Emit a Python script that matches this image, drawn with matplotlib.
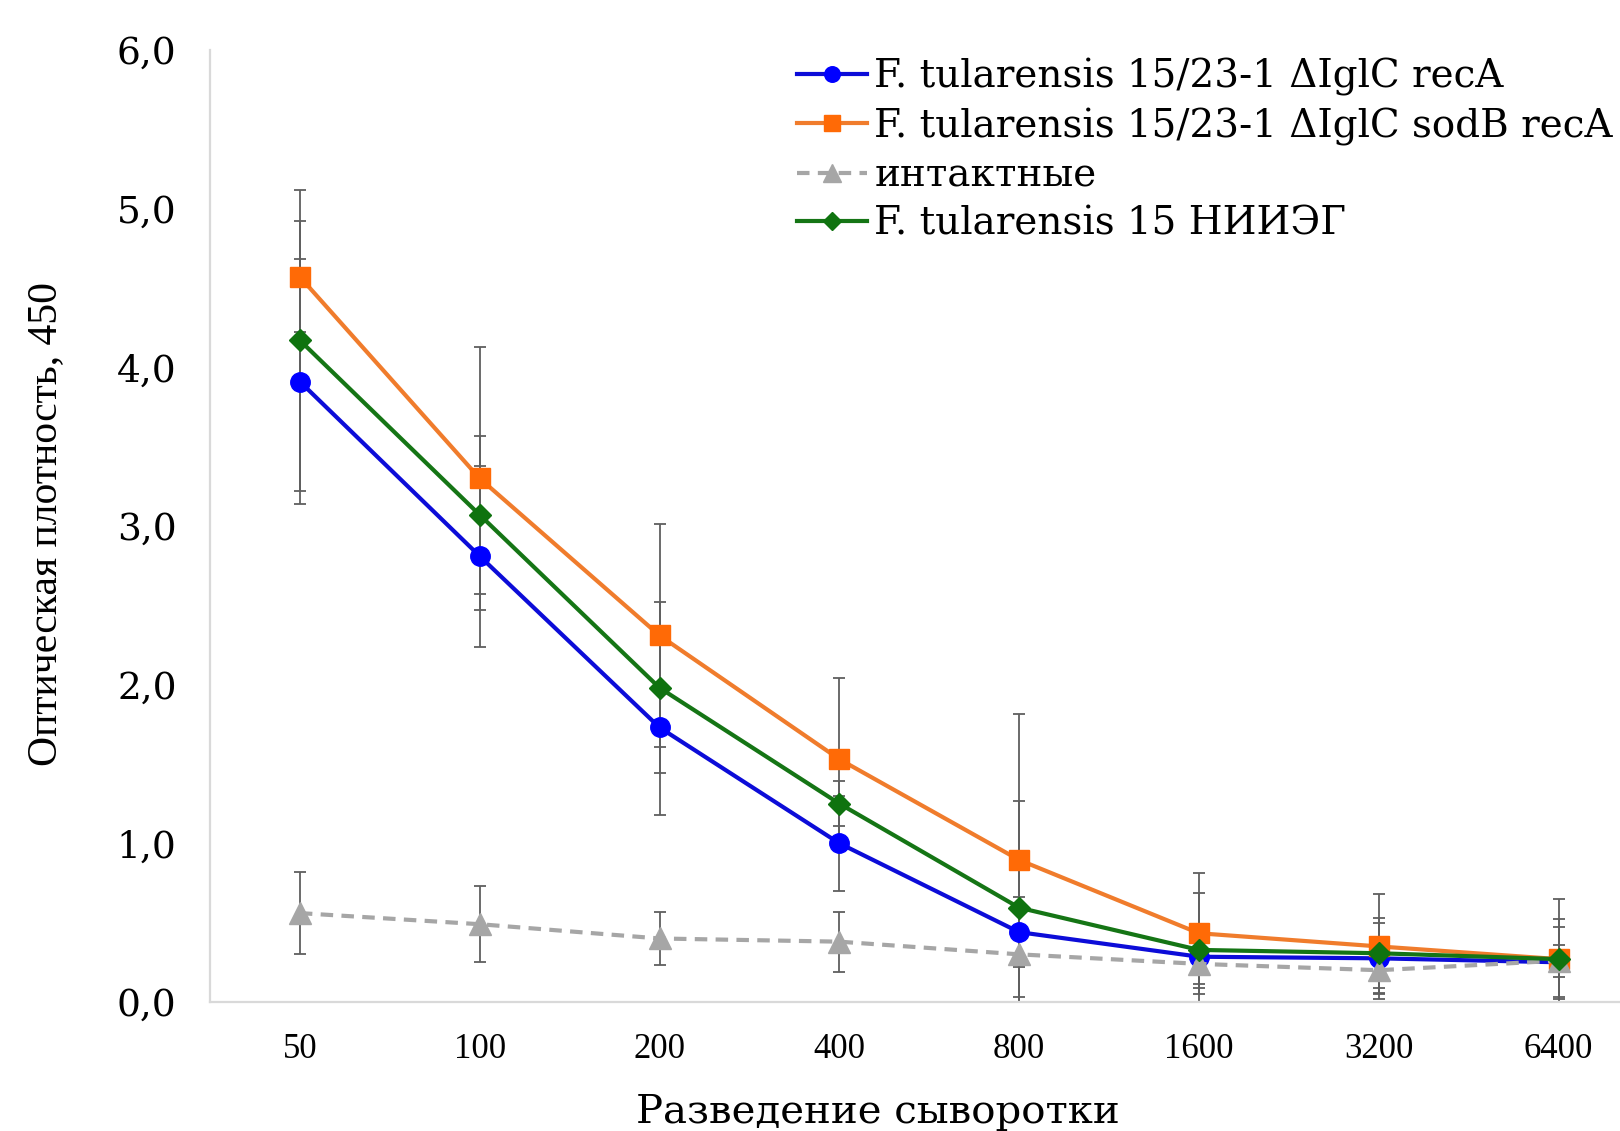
import matplotlib
matplotlib.use("Agg")
import matplotlib.pyplot as plt
import numpy as np

plt.rcParams['font.family'] = ['Liberation Serif', 'DejaVu Serif']
WIDE = ['DejaVu Serif']

dilutions = ["50", "100", "200", "400", "800", "1600", "3200", "6400"]

recA = [3.91, 2.81, 1.73, 1.00, 0.44, 0.285, 0.275, 0.25]
recA_err = [0.77, 0.57, 0.55, 0.30, 0.22, 0.17, 0.22, 0.22]

sodB = [4.57, 3.30, 2.31, 1.53, 0.895, 0.433, 0.35, 0.27]
sodB_err = [0.35, 0.83, 0.70, 0.51, 0.92, 0.38, 0.33, 0.38]

intact = [0.56, 0.49, 0.40, 0.38, 0.30, 0.24, 0.20, 0.26]
intact_err = [0.26, 0.24, 0.17, 0.19, 0.27, 0.15, 0.15, 0.10]

niieg = [4.17, 3.07, 1.98, 1.25, 0.594, 0.328, 0.307, 0.27]
niieg_err = [0.95, 0.50, 0.54, 0.14, 0.67, 0.36, 0.22, 0.25]

labels = [
    "F. tularensis 15/23-1 \u0394IglC recA",
    "F. tularensis 15/23-1 \u0394IglC sodB recA",
    "интактные",
    "F. tularensis 15 НИИЭГ",
]

fig = plt.figure(figsize=(16.2, 11.31), dpi=100)
ax = fig.add_axes([0.1296, 0.1141, 0.888, 0.8417])

x = np.arange(len(dilutions))
series = [
    (recA, recA_err, '#0c0cd8', '#0000ff', 'o', 14, '-'),
    (sodB, sodB_err, '#f07c2c', '#ff6a06', 's', 14, '-'),
    (intact, intact_err, '#a6a6a6', '#a6a6a6', '^', 16, (0, (3, 2))),
    (niieg, niieg_err, '#157515', '#0f730f', 'D', 11, '-'),
]

# error bars first so the markers sit on top
for vals, err, lc, mc, mk, ms, ls in series:
    ax.errorbar(x, vals, yerr=err, fmt='none', ecolor='#5f5f5f',
                elinewidth=1.3, capsize=4, capthick=1.3, zorder=1)

for (vals, err, lc, mc, mk, ms, ls), lab in zip(series, labels):
    ax.plot(x, vals, linestyle=ls, color=lc, lw=3.0, marker=mk,
            markersize=ms, markerfacecolor=mc, markeredgecolor=mc,
            label=lab, zorder=3)

ax.set_xlim(-0.5, 7.5)
ax.set_ylim(0, 6)
ax.set_xticks(x)
ax.set_xticklabels(dilutions, fontsize=25)
ax.set_yticks(np.arange(0, 7, 1))
ax.set_yticklabels([f"{v},0" for v in range(7)], family=WIDE, fontsize=27)
ax.tick_params(axis='y', length=0, pad=24)
ax.tick_params(axis='x', length=0, pad=22)

for s in ['top', 'right']:
    ax.spines[s].set_visible(False)
for s in ['left', 'bottom']:
    ax.spines[s].set_color('#d9d9d9')
    ax.spines[s].set_linewidth(1.6)

fig.text(0.0284, 0.5367, "Оптическая плотность, 450", fontsize=30,
         rotation=90, ha='center', va='center')
fig.text(0.542, 0.016, "Разведение сыворотки", family=WIDE, fontsize=29,
         ha='center', va='center')

ax.legend(loc='upper left', bbox_to_anchor=(0.397, 1.008), frameon=False,
          prop={'family': WIDE, 'size': 28}, handlelength=1.8,
          handletextpad=0.2, labelspacing=0.3, borderaxespad=0,
          markerscale=0.8)

fig.savefig("out.png", dpi=100)
